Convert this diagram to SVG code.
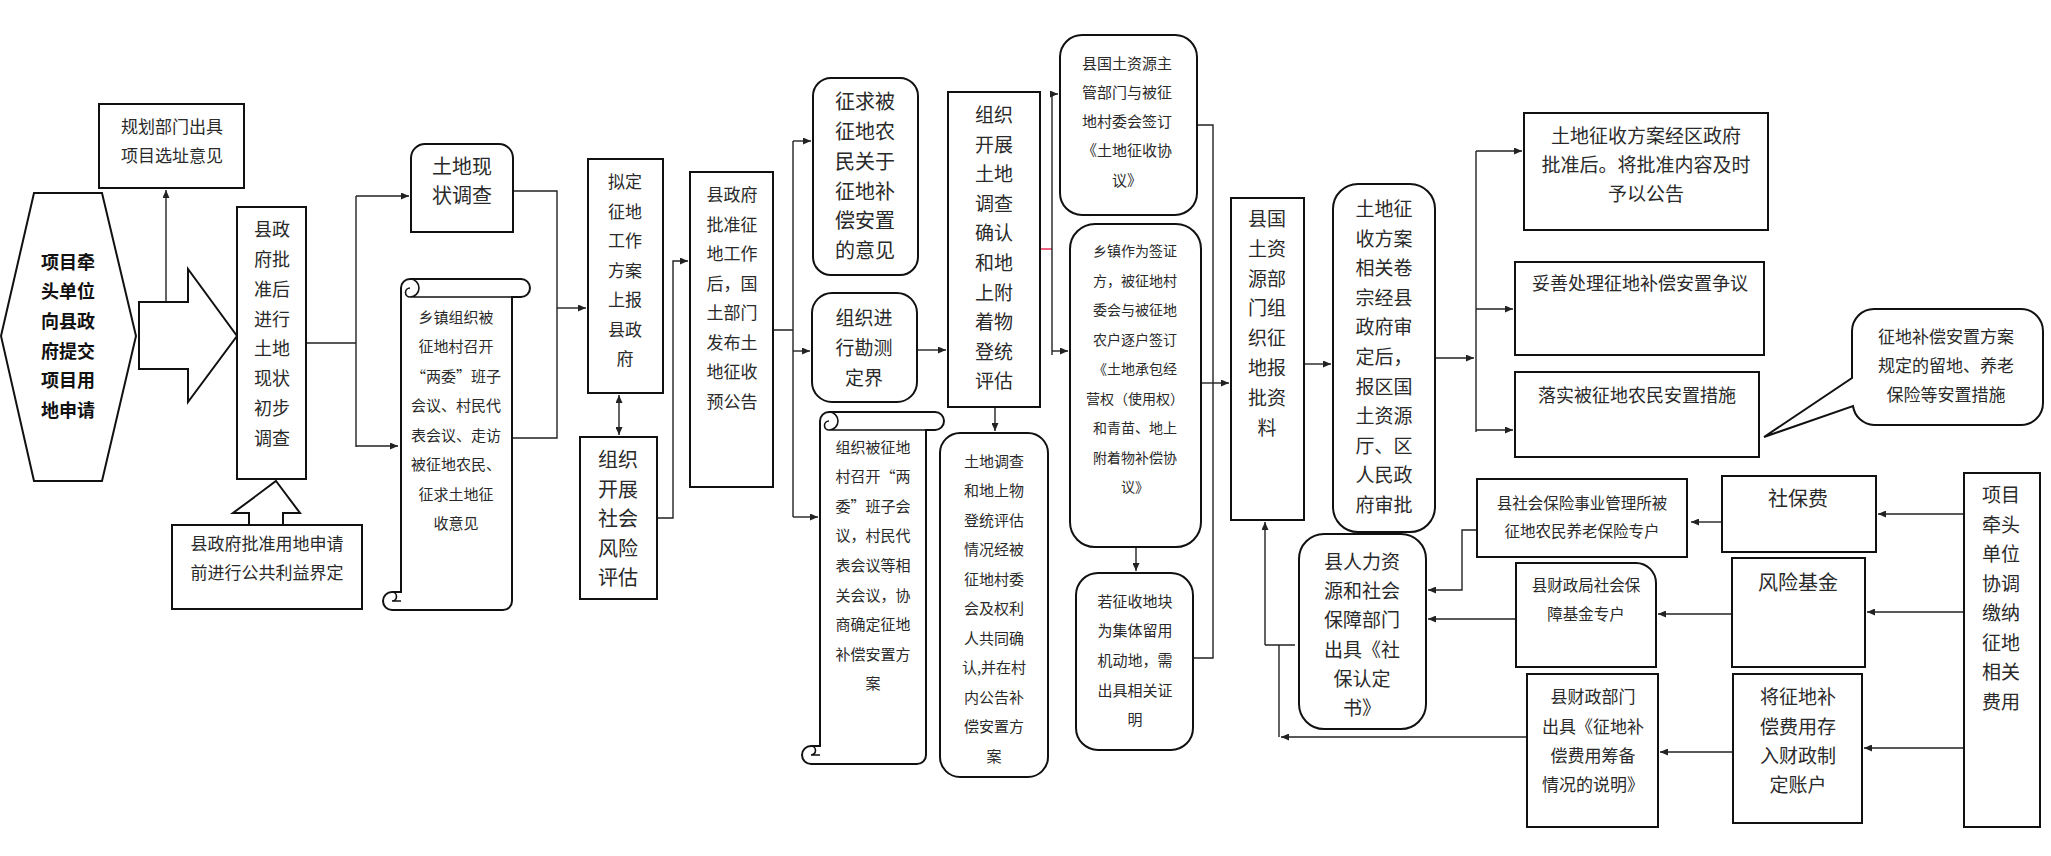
<svg xmlns="http://www.w3.org/2000/svg" width="2051" height="856" viewBox="0 0 2051 856">
<style>
.b{fill:#fff;stroke:#111;stroke-width:2}
.t{font-family:"Noto Sans CJK SC","Liberation Serif",sans-serif;fill:#2a2a2a;text-anchor:middle}
.bold{font-weight:bold;fill:#111}
.c{fill:none;stroke:#222;stroke-width:1.4}
.a{marker-end:url(#ah)}
.d{fill:none;stroke:#111;stroke-width:1.6}
</style>
<defs>
<marker id="ah" markerUnits="userSpaceOnUse" markerWidth="8" markerHeight="7" refX="8" refY="3.5" orient="auto-start-reverse">
<path d="M0,0 L8,3.5 L0,7 z" fill="#222"/>
</marker>
</defs>
<rect width="2051" height="856" fill="#fff"/>

<g id="connectors">
<path class="c a" d="M166,302 V190"/>
<path class="c" d="M306,343 H356 M356,196 V447"/>
<path class="c a" d="M356,196 H409"/>
<path class="c a" d="M356,446 H398"/>
<path class="c" d="M513,191 H557 V438 H512"/>
<path class="c a" d="M557,308 H586"/>
<path class="c a" d="M619,395 V435" marker-start="url(#ah)"/>
<path class="c a" d="M657,518 H673 V261 H688"/>
<path class="c" d="M773,330 H793 M793,141 V517"/>
<path class="c a" d="M793,141 H811"/>
<path class="c a" d="M793,351 H810"/>
<path class="c a" d="M793,517 H818"/>
<path class="c a" d="M917,350 H946"/>
<path class="c a" d="M995,407 V431"/>
<path fill="none" stroke="#e8204a" stroke-width="1.4" d="M1040,249 H1052"/>
<path class="c" d="M1052,94 V355"/>
<path class="c a" d="M1052,94 H1058"/>
<path class="c a" d="M1052,351 H1068"/>
<path class="c" d="M1197,125 H1213 V658 H1193"/>
<path class="c a" d="M1201,383 H1229"/>
<path class="c a" d="M1136,547 V571"/>
<path class="c a" d="M1304,364 H1331"/>
<path class="c a" d="M1435,358 H1474"/>
<path class="c" d="M1476,151 V432"/>
<path class="c a" d="M1476,151 H1522"/>
<path class="c a" d="M1476,309 H1513"/>
<path class="c a" d="M1476,430 H1513"/>
<path class="c a" d="M1964,514 H1878"/>
<path class="c a" d="M1722,522 H1691"/>
<path class="c a" d="M1964,612 H1867"/>
<path class="c a" d="M1732,614 H1658"/>
<path class="c a" d="M1964,748 H1864"/>
<path class="c a" d="M1733,752 H1660"/>
<path class="c a" d="M1497,530 H1462 V590 H1428"/>
<path class="c a" d="M1519,619 H1428"/>
<path class="c a" d="M1527,737 H1281"/>
<path class="c" d="M1279,737 V645 M1265,645 H1295"/>
<path class="c a" d="M1265,645 V522"/>
</g>

<g id="n1"><polygon class="b" points="1,336 34,193 102,193 136,336 102,481 34,481"/>
<text class="t bold" font-size="18"><tspan x="68" y="269">项目牵</tspan><tspan x="68" y="298">头单位</tspan><tspan x="68" y="328">向县政</tspan><tspan x="68" y="358">府提交</tspan><tspan x="68" y="387">项目用</tspan><tspan x="68" y="417">地申请</tspan></text></g>

<g id="n2"><polygon class="b" points="139,302 188,302 188,269 237,336 188,402 188,369 139,369"/></g>

<g id="n3"><rect class="b" x="99" y="104" width="145" height="84"/>
<text class="t" font-size="17"><tspan x="172" y="133">规划部门出具</tspan><tspan x="172" y="162">项目选址意见</tspan></text></g>

<g id="n4"><rect class="b" x="237" y="207" width="69" height="272"/>
<text class="t" font-size="18"><tspan x="272" y="236">县政</tspan><tspan x="272" y="266">府批</tspan><tspan x="272" y="296">准后</tspan><tspan x="272" y="326">进行</tspan><tspan x="272" y="355">土地</tspan><tspan x="272" y="385">现状</tspan><tspan x="272" y="415">初步</tspan><tspan x="272" y="445">调查</tspan></text></g>

<g id="n5"><polygon class="b" points="276,481 300,513 283,513 283,525 249,525 249,513 233,513"/></g>

<g id="n6"><rect class="b" x="172" y="525" width="190" height="84"/>
<text class="t" font-size="17"><tspan x="267" y="550">县政府批准用地申请</tspan><tspan x="267" y="579">前进行公共利益界定</tspan></text></g>

<g id="n7"><path class="b" d="M411,232 V158 A14,14 0 0 1 425,144 H499 A14,14 0 0 1 513,158 V232 Z"/>
<text class="t" font-size="20"><tspan x="462" y="174">土地现</tspan><tspan x="462" y="203">状调查</tspan></text></g>

<g id="n8"><path class="b" d="M401,592 V288 A9,9 0 0 1 410,279 H521 A9,9 0 0 1 521,297 H512 V601 A9,9 0 0 1 503,610 H392 A9,9 0 0 1 392,592 Z"/>
<path class="d" d="M410,279 A9,9 0 0 1 410,297 A4.5,4.5 0 0 1 410,288 M410,297 H512 M392,592 A4.5,4.5 0 0 1 392,601 H401"/>
<text class="t" font-size="15"><tspan x="456" y="322.6">乡镇组织被</tspan><tspan x="456" y="352.1">征地村召开</tspan><tspan x="456" y="381.6">“两委”班子</tspan><tspan x="456" y="411.1">会议、村民代</tspan><tspan x="456" y="440.6">表会议、走访</tspan><tspan x="456" y="470.1">被征地农民、</tspan><tspan x="456" y="499.6">征求土地征</tspan><tspan x="456" y="529.1">收意见</tspan></text></g>

<g id="n9"><rect class="b" x="588" y="159" width="75" height="234"/>
<text class="t" font-size="17"><tspan x="625" y="188.3">拟定</tspan><tspan x="625" y="217.8">征地</tspan><tspan x="625" y="247.3">工作</tspan><tspan x="625" y="276.8">方案</tspan><tspan x="625" y="306.3">上报</tspan><tspan x="625" y="335.8">县政</tspan><tspan x="625" y="365.3">府</tspan></text></g>

<g id="n10"><rect class="b" x="580" y="437" width="77" height="162"/>
<text class="t" font-size="20"><tspan x="618" y="467.4">组织</tspan><tspan x="618" y="496.9">开展</tspan><tspan x="618" y="526.4">社会</tspan><tspan x="618" y="555.9">风险</tspan><tspan x="618" y="585.4">评估</tspan></text></g>

<g id="n11"><rect class="b" x="690" y="172" width="83" height="315"/>
<text class="t" font-size="17"><tspan x="732" y="201.3">县政府</tspan><tspan x="732" y="230.8">批准征</tspan><tspan x="732" y="260.3">地工作</tspan><tspan x="732" y="289.8">后，国</tspan><tspan x="732" y="319.3">土部门</tspan><tspan x="732" y="348.8">发布土</tspan><tspan x="732" y="378.3">地征收</tspan><tspan x="732" y="407.8">预公告</tspan></text></g>

<g id="n12"><rect class="b" x="813" y="78" width="105" height="197" rx="18"/>
<text class="t" font-size="20"><tspan x="865" y="109.4">征求被</tspan><tspan x="865" y="139.1">征地农</tspan><tspan x="865" y="168.8">民关于</tspan><tspan x="865" y="198.5">征地补</tspan><tspan x="865" y="228.2">偿安置</tspan><tspan x="865" y="257.9">的意见</tspan></text></g>

<g id="n13"><rect class="b" x="812" y="293" width="105" height="109" rx="20"/>
<text class="t" font-size="19"><tspan x="864" y="325">组织进</tspan><tspan x="864" y="355">行勘测</tspan><tspan x="864" y="385">定界</tspan></text></g>

<g id="n14"><path class="b" d="M820,746 V421 A9,9 0 0 1 829,412 H935 A9,9 0 0 1 935,430 H926 V755 A9,9 0 0 1 917,764 H811 A9,9 0 0 1 811,746 Z"/>
<path class="d" d="M829,412 A9,9 0 0 1 829,430 A4.5,4.5 0 0 1 829,421 M829,430 H926 M811,746 A4.5,4.5 0 0 1 811,755 H820"/>
<text class="t" font-size="15"><tspan x="873" y="452.6">组织被征地</tspan><tspan x="873" y="482.2">村召开“两</tspan><tspan x="873" y="511.8">委”班子会</tspan><tspan x="873" y="541.4">议，村民代</tspan><tspan x="873" y="571">表会议等相</tspan><tspan x="873" y="600.6">关会议，协</tspan><tspan x="873" y="630.2">商确定征地</tspan><tspan x="873" y="659.8">补偿安置方</tspan><tspan x="873" y="689.4">案</tspan></text></g>

<g id="n15"><rect class="b" x="948" y="92" width="92" height="315"/>
<text class="t" font-size="19"><tspan x="994" y="122">组织</tspan><tspan x="994" y="151.6">开展</tspan><tspan x="994" y="181.2">土地</tspan><tspan x="994" y="210.8">调查</tspan><tspan x="994" y="240.4">确认</tspan><tspan x="994" y="270">和地</tspan><tspan x="994" y="299.6">上附</tspan><tspan x="994" y="329.2">着物</tspan><tspan x="994" y="358.8">登统</tspan><tspan x="994" y="388.4">评估</tspan></text></g>

<g id="n16"><rect class="b" x="940" y="433" width="108" height="344" rx="20"/>
<text class="t" font-size="15"><tspan x="994" y="466.6">土地调查</tspan><tspan x="994" y="496.1">和地上物</tspan><tspan x="994" y="525.6">登统评估</tspan><tspan x="994" y="555.1">情况经被</tspan><tspan x="994" y="584.6">征地村委</tspan><tspan x="994" y="614.1">会及权利</tspan><tspan x="994" y="643.6">人共同确</tspan><tspan x="994" y="673.1">认,并在村</tspan><tspan x="994" y="702.6">内公告补</tspan><tspan x="994" y="732.1">偿安置方</tspan><tspan x="994" y="761.6">案</tspan></text></g>

<g id="n17"><rect class="b" x="1060" y="35" width="137" height="180" rx="22"/>
<text class="t" font-size="15"><tspan x="1127" y="68.6">县国土资源主</tspan><tspan x="1127" y="97.9">管部门与被征</tspan><tspan x="1127" y="127.1">地村委会签订</tspan><tspan x="1127" y="156.4">《土地征收协</tspan><tspan x="1127" y="185.6">议》</tspan></text></g>

<g id="n18"><rect class="b" x="1070" y="224" width="131" height="323" rx="25"/>
<text class="t" font-size="14"><tspan x="1135" y="256.2">乡镇作为签证</tspan><tspan x="1135" y="285.7">方，被征地村</tspan><tspan x="1135" y="315.2">委会与被征地</tspan><tspan x="1135" y="344.7">农户逐户签订</tspan><tspan x="1135" y="374.2">《土地承包经</tspan><tspan x="1135" y="403.7">营权（使用权）</tspan><tspan x="1135" y="433.2">和青苗、地上</tspan><tspan x="1135" y="462.7">附着物补偿协</tspan><tspan x="1135" y="492.2">议》</tspan></text></g>

<g id="n19"><rect class="b" x="1076" y="573" width="117" height="177" rx="22"/>
<text class="t" font-size="15"><tspan x="1135" y="606.6">若征收地块</tspan><tspan x="1135" y="636.3">为集体留用</tspan><tspan x="1135" y="666">机动地，需</tspan><tspan x="1135" y="695.7">出具相关证</tspan><tspan x="1135" y="725.4">明</tspan></text></g>

<g id="n20"><rect class="b" x="1231" y="198" width="73" height="322"/>
<text class="t" font-size="19"><tspan x="1267" y="226">县国</tspan><tspan x="1267" y="255.8">土资</tspan><tspan x="1267" y="285.6">源部</tspan><tspan x="1267" y="315.4">门组</tspan><tspan x="1267" y="345.2">织征</tspan><tspan x="1267" y="375">地报</tspan><tspan x="1267" y="404.8">批资</tspan><tspan x="1267" y="434.6">料</tspan></text></g>

<g id="n21"><rect class="b" x="1333" y="184" width="102" height="348" rx="25"/>
<text class="t" font-size="19"><tspan x="1384" y="216">土地征</tspan><tspan x="1384" y="245.6">收方案</tspan><tspan x="1384" y="275.2">相关卷</tspan><tspan x="1384" y="304.8">宗经县</tspan><tspan x="1384" y="334.4">政府审</tspan><tspan x="1384" y="364">定后，</tspan><tspan x="1384" y="393.6">报区国</tspan><tspan x="1384" y="423.2">土资源</tspan><tspan x="1384" y="452.8">厅、区</tspan><tspan x="1384" y="482.4">人民政</tspan><tspan x="1384" y="512">府审批</tspan></text></g>

<g id="n22"><rect class="b" x="1524" y="113" width="244" height="117"/>
<text class="t" font-size="19"><tspan x="1646" y="143">土地征收方案经区政府</tspan><tspan x="1646" y="172">批准后。将批准内容及时</tspan><tspan x="1646" y="201">予以公告</tspan></text></g>

<g id="n23"><rect class="b" x="1515" y="262" width="249" height="93"/>
<text class="t" font-size="18" x="1640" y="289.7">妥善处理征地补偿安置争议</text></g>

<g id="n24"><rect class="b" x="1515" y="372" width="244" height="85"/>
<text class="t" font-size="18" x="1637" y="401.7">落实被征地农民安置措施</text></g>

<g id="n25"><path class="b" d="M1874,309 H2021 A22,22 0 0 1 2043,331 V403 A22,22 0 0 1 2021,425 H1874 A22,22 0 0 1 1853,406 L1764,437 L1852,378 V331 A22,22 0 0 1 1874,309 Z"/>
<text class="t" font-size="17"><tspan x="1946" y="343.3">征地补偿安置方案</tspan><tspan x="1946" y="372.3">规定的留地、养老</tspan><tspan x="1946" y="401.3">保险等安置措施</tspan></text></g>

<g id="n26"><rect class="b" x="1477" y="479" width="210" height="78"/>
<text class="t" font-size="15.5"><tspan x="1582" y="508.7">县社会保险事业管理所被</tspan><tspan x="1582" y="536.7">征地农民养老保险专户</tspan></text></g>

<g id="n27"><rect class="b" x="1722" y="476" width="154" height="76"/>
<text class="t" font-size="20" x="1798" y="506.4">社保费</text></g>

<g id="n28"><path class="b" d="M1516,563 H1636 A20,20 0 0 1 1656,583 V667 H1516 Z"/>
<text class="t" font-size="15.5"><tspan x="1586" y="590.7">县财政局社会保</tspan><tspan x="1586" y="619.7">障基金专户</tspan></text></g>

<g id="n29"><rect class="b" x="1732" y="558" width="133" height="109"/>
<text class="t" font-size="20" x="1798" y="590.4">风险基金</text></g>

<g id="n30"><rect class="b" x="1527" y="674" width="131" height="153"/>
<text class="t" font-size="17"><tspan x="1593" y="703.3">县财政部门</tspan><tspan x="1593" y="733.3">出具《征地补</tspan><tspan x="1593" y="762.3">偿费用筹备</tspan><tspan x="1593" y="791.3">情况的说明》</tspan></text></g>

<g id="n31"><rect class="b" x="1733" y="674" width="129" height="149"/>
<text class="t" font-size="19"><tspan x="1798" y="704">将征地补</tspan><tspan x="1798" y="734">偿费用存</tspan><tspan x="1798" y="763">入财政制</tspan><tspan x="1798" y="792">定账户</tspan></text></g>

<g id="n32"><rect class="b" x="1964" y="473" width="76" height="354"/>
<text class="t" font-size="19"><tspan x="2001" y="502">项目</tspan><tspan x="2001" y="531.5">牵头</tspan><tspan x="2001" y="561">单位</tspan><tspan x="2001" y="590.5">协调</tspan><tspan x="2001" y="620">缴纳</tspan><tspan x="2001" y="649.5">征地</tspan><tspan x="2001" y="679">相关</tspan><tspan x="2001" y="708.5">费用</tspan></text></g>

<g id="n33"><rect class="b" x="1299" y="534" width="127" height="195" rx="25"/>
<text class="t" font-size="19"><tspan x="1362" y="569">县人力资</tspan><tspan x="1362" y="598.2">源和社会</tspan><tspan x="1362" y="627.4">保障部门</tspan><tspan x="1362" y="656.6">出具《社</tspan><tspan x="1362" y="685.8">保认定</tspan><tspan x="1362" y="715">书》</tspan></text></g>
</svg>
